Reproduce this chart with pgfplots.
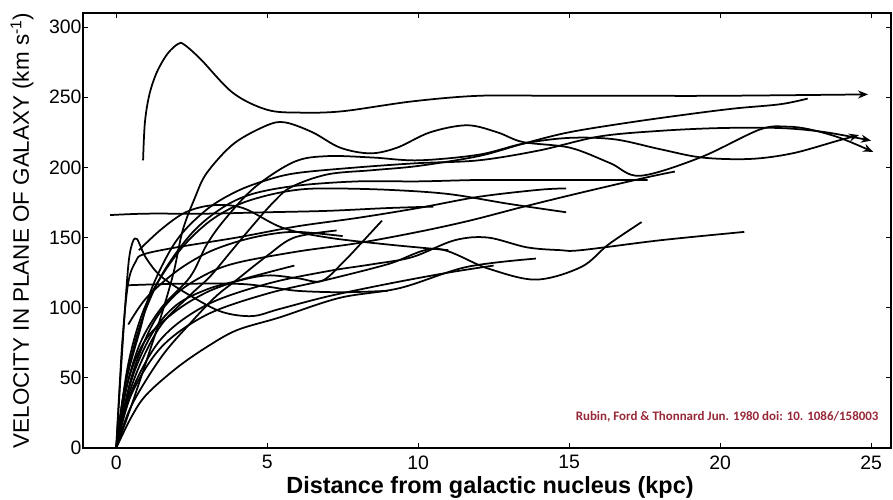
\documentclass[border=0pt]{standalone}
\usepackage{pgfplots}
\pgfplotsset{compat=1.18}
\usetikzlibrary{arrows.meta}
\usepackage{fontspec}
\setmainfont{Liberation Sans}
\newfontfamily\carlito{Carlito}
\definecolor{annot}{RGB}{150,40,55}
\pgfplotsset{rc/.style={black, line width=1.75bp, smooth, tension=0.55, mark=none},
  ar/.style={-{Stealth[length=10bp,width=8bp]}}}
\begin{document}
\begin{tikzpicture}
\begin{axis}[name=ax, scale only axis, width=808bp, height=435bp,
  xmin=-1.1, xmax=25.66, ymin=0, ymax=310,
  xtick={0,5,...,25}, ytick={0,50,...,300},
  tick align=inside, major tick length=5bp,
  every tick/.style={black, line width=1bp},
  axis line style={line width=1.4bp},
  tick label style={font=\fontsize{19.5}{19.5}\selectfont},
  /pgf/number format/assume math mode=true,
  xticklabel style={yshift=-4bp},
  yticklabel style={xshift=2bp},
]
% A (top, arrow)
\addplot[rc,ar] coordinates {(0.89,205)(0.95,232)(1.1,252)(1.35,268)(1.7,281)(2.05,288)(2.25,287.5)(2.8,277)(3.87,253)(5.0,241)(6.1,239)(7.5,240)(9.8,247)(12.0,251)(14.5,251)(17,251)(20,251)(24.9,252)};
% B
\addplot[rc,ar] coordinates {(0,0)(0.5,30)(1.0,62)(1.5,95)(1.9,125)(2.2,155)(2.6,178)(3.0,196)(3.9,217)(5.0,230)(5.6,232)(6.5,225)(7.42,214)(8.41,210)(9.3,214)(10.4,225)(11.62,230)(12.62,225)(13.48,218)(15.03,214)(16.36,203)(17.35,194)(19.34,207)(21.32,227)(22.22,229)(22.98,227)(23.97,221)(25.07,211)};
% C
\addplot[rc] coordinates {(0,0)(0.3,30)(0.8,60)(1.5,88)(2.5,110)(3.1,122)(3.8,140)(4.5,158)(5.2,175)(5.8,186)(7,195)(8.5,198)(10,201)(12,208)(13.5,217)(15,225)(17,232)(19,238)(20.5,242)(22,245)(22.9,249)};
% D
\addplot[rc,ar] coordinates {(0,0)(0.3,40)(0.8,75)(1.5,100)(2.45,122)(3.0,145)(3.6,163)(4.6,186)(5.9,204)(7,208)(8.5,207)(10,205)(12,209)(13.5,217)(15,221)(16.5,220)(18,213)(19.4,207)(21,206)(22.4,210)(23.9,219)(24.6,223)};
% E
\addplot[rc,ar] coordinates {(0,0)(0.3,45)(0.8,85)(1.2,115)(2,148)(3,170)(4,183)(5,191)(6,196)(8,200)(10,203)(12,205)(14,212)(16,222)(18,226)(20,228)(22,228)(23.5,225)(25,219)};
% F
\addplot[rc] coordinates {(-0.2,166)(1,167)(3,167)(5,168)(7,169)(9,171)(10.5,172)};
% G
\addplot[rc] coordinates {(0,0)(0.2,70)(0.4,130)(0.55,147)(0.68,149)(0.8,144)(1,135)(1.5,122)(2.5,108)(3.5,97)(4.5,94)(5.4,99)(7,108)(9,117)(11,125)(12.5,130)};
% H
\addplot[rc] coordinates {(0,0)(0.2,75)(0.4,118)(0.65,133)(0.9,138)(2,143)(4,150)(6,158)(8,164)(10,171)(12,179)(14,184)(14.9,185)};
% I
\addplot[rc] coordinates {(0.75,141)(1.5,156)(2.3,168)(3.2,173)(4.2,171)(5.5,157)(7,150)(9,145)(11,141)};
% J
\addplot[rc] coordinates {(0,0)(0.4,60)(1,103)(2,138)(3,160)(4,173)(5,180)(6,184)(7,185)(9,184)(11,181)(13,174)(14.9,168)};
% K
\addplot[rc] coordinates {(0,0)(0.3,45)(0.8,88)(1.5,123)(2.5,153)(3.5,171)(4.5,181)(6,187)(8,190)(10,190)(12,191)(14,191)(16,191)(17.6,191)};
% M
\addplot[rc] coordinates {(0,0)(0.5,50)(1.2,88)(2,110)(3,124)(4,132)(6,140)(8,146)(10,154)(11.7,162)(13.5,172)(15.4,182)(17.6,193)(18.5,197)};
% N
\addplot[rc] coordinates {(0,0)(0.5,40)(1.5,78)(3,102)(5,117)(7,126)(8.5,131)(9.8,136)(11.2,148)(12.3,150)(13.6,143)(14.7,141)(15.4,141)(18,148)(20.8,154)};
% O
\addplot[rc] coordinates {(0,0)(0.5,38)(1.5,72)(3,95)(5,110)(7,120)(9,131)(10.6,142)(12.3,128)(13.9,120)(15.4,129)(16.3,145)(17.4,161)};
% R
\addplot[rc] coordinates {(0,0)(0.5,22)(1,38)(2,57)(3,72)(4,84)(5.4,93)(7.4,107)(9.4,114)(11.6,129)(13.9,135)};
% U
\addplot[rc] coordinates {(0,0)(0.5,48)(1.2,82)(2,102)(3,113)(4,119)(5,123)(6,121)(6.8,119)(7.5,132)(8.2,148)(8.8,162)};
% V
\addplot[rc] coordinates {(0,0)(0.4,48)(1,78)(2,98)(3,111)(4,119)(5,125)(5.9,130)};
% X
\addplot[rc] coordinates {(0.4,88)(1,107)(2,126)(3,139)(4,147)(5,152)(6,154)(7.5,151)};
% Y
\addplot[rc] coordinates {(0.4,116)(2,117)(4,117)(5,115)(6,112)(7.5,111)(9,112)};
% Z
\addplot[rc] coordinates {(0,0)(0.5,30)(1.5,65)(2.5,90)(3.3,108)(4.0,120)(5.0,137)(5.9,150)(7.3,155)};
\node[anchor=east, font=\carlito\bfseries\fontsize{13}{13}\selectfont, text=annot] at (axis cs:25.36,22) {Rubin, Ford \& Thonnard Jun. 1980 doi: 10. 1086/158003};
\end{axis}
\node[rotate=90, font=\fontsize{22.5}{22.5}\selectfont] at ([xshift=-61bp]ax.west) {VELOCITY IN PLANE OF GALAXY (km s\textsuperscript{-1})};
\node[font=\fontsize{23.5}{24}\selectfont\bfseries] at ([xshift=3bp,yshift=-39bp]ax.south) {Distance from galactic nucleus (kpc)};
\pgfresetboundingbox
\path ([shift={(-83bp,-52bp)}]ax.south west) rectangle ([shift={(2bp,13bp)}]ax.north east);
\end{tikzpicture}
\end{document}
